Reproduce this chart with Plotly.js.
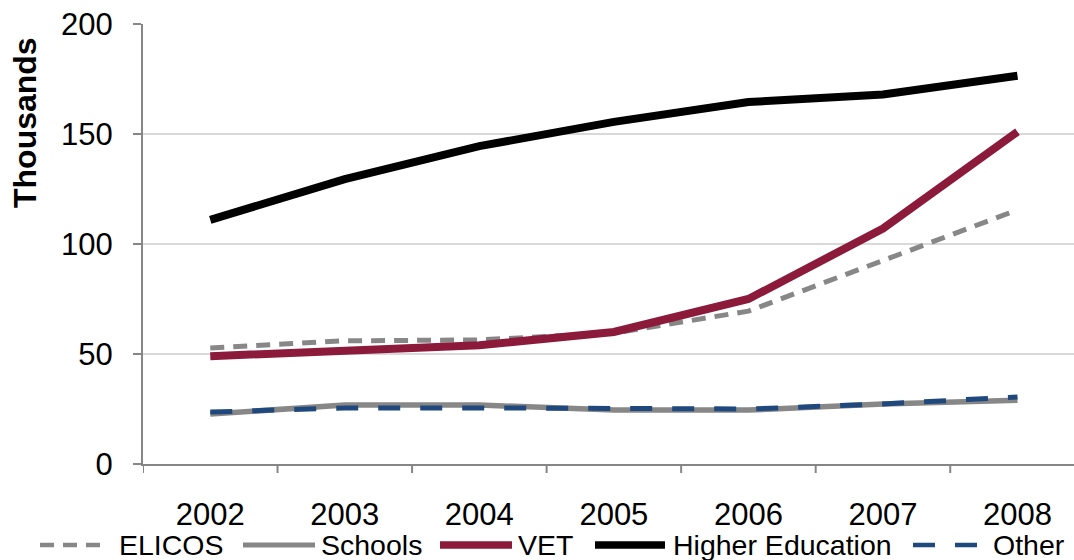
<!DOCTYPE html>
<html>
<head>
<meta charset="utf-8">
<script src="https://cdn.plot.ly/plotly-3.0.1.min.js"></script>
<style>
  html, body { margin: 0; padding: 0; background: #ffffff; }
  #chart { width: 1074px; height: 560px; }
</style>
</head>
<body>
<div id="chart"></div>
<script>
// International student enrolments by sector, thousands
const years = ['2002', '2003', '2004', '2005', '2006', '2007', '2008'];

const elicos          = [52.7, 56.0, 56.4, 59.5, 69.5, 92.7, 115.5];
const schools         = [22.7, 26.8, 26.8, 24.5, 24.5, 27.3, 29.0];
const vet             = [49.0, 51.4, 54.0, 60.0, 75.0, 107.0, 151.0];
const higherEducation = [111.0, 129.5, 144.5, 155.5, 164.5, 168.0, 176.5];
const other           = [23.6, 25.5, 25.5, 25.0, 25.0, 27.3, 30.5];

const seriesNames = ['ELICOS', 'Schools', 'VET', 'Higher Education', 'Other'];
const seriesData  = [elicos, schools, vet, higherEducation, other];
const yTicks = [0, 50, 100, 150, 200];

// line styles per series
const styles = [
  { color: '#878787', width: 5, dash: '14px,9px' },
  { color: '#878787', width: 5.5, dash: 'solid' },
  { color: '#8c1a3a', width: 8, dash: 'solid' },
  { color: '#000000', width: 8, dash: 'solid' },
  { color: '#1f497d', width: 5, dash: '22px,20px' }
];

const FONT = 'Liberation Sans, Arial, sans-serif';
const W = 1074, H = 560;
const M = { l: 143, r: 0, t: 24, b: 96 };
const plotW = W - M.l - M.r, plotH = H - M.t - M.b;
const xp = px => (px - M.l) / plotW;     // pixel -> paper x
const yp = py => (H - M.b - py) / plotH; // pixel -> paper y

const xIdx = years.map((_, i) => i);

const traces = seriesData.map((vals, i) => ({
  type: 'scatter',
  mode: 'lines',
  x: xIdx,
  y: vals,
  name: seriesNames[i],
  line: { color: styles[i].color, width: styles[i].width, dash: styles[i].dash },
  showlegend: false,
  hoverinfo: 'skip'
}));

// legend drawn beneath the axis: line sample then label
const legendSlots = [
  { x0: 40,  x1: 105, tx: 117 },
  { x0: 243, x1: 315, tx: 319 },
  { x0: 440, x1: 512, tx: 516 },
  { x0: 595, x1: 665, tx: 671 },
  { x0: 913, x1: 980, tx: 991 }
];
const legendY = 545;

const legendShapes = legendSlots.map((s, i) => ({
  type: 'line', xref: 'paper', yref: 'paper',
  x0: xp(s.x0), x1: xp(s.x1), y0: yp(legendY), y1: yp(legendY),
  line: { color: styles[i].color, width: styles[i].width - 0.5, dash: styles[i].dash }
}));

const legendLabels = legendSlots.map((s, i) => ({
  xref: 'paper', yref: 'paper',
  x: xp(s.tx), y: yp(legendY),
  xanchor: 'left', yanchor: 'middle',
  text: seriesNames[i], showarrow: false,
  font: { family: FONT, size: 28.5, color: '#000000' }
}));

// y-axis caption, set high beside the axis
const yCaption = {
  xref: 'paper', yref: 'paper',
  x: xp(25), y: yp(123),
  xanchor: 'center', yanchor: 'middle',
  textangle: -90, showarrow: false,
  text: '<b>Thousands</b>',
  font: { family: FONT, size: 32, color: '#000000' }
};

// boundary tick marks between year categories
const boundaryTicks = xIdx.map(i => ({
  type: 'line', xref: 'x', yref: 'paper',
  x0: i - 0.5, x1: i - 0.5, y0: 0, y1: -9 / plotH,
  line: { color: '#868686', width: 2 }
}));

const layout = {
  width: W, height: H,
  margin: M,
  paper_bgcolor: '#ffffff', plot_bgcolor: '#ffffff',
  font: { family: FONT, size: 31, color: '#000000' },
  xaxis: {
    range: [-0.5, 6.42],
    tickmode: 'array',
    tickvals: xIdx,
    ticktext: years,
    ticks: '',
    showgrid: false,
    zeroline: false,
    showline: true, linecolor: '#868686', linewidth: 2,
    ticklabelstandoff: 22,
    tickfont: { family: FONT, size: 31, color: '#000000' },
    fixedrange: true
  },
  yaxis: {
    range: [0, 200],
    tickmode: 'array',
    tickvals: yTicks,
    ticks: 'outside', ticklen: 8, tickwidth: 2, tickcolor: '#868686',
    showgrid: true, gridcolor: '#d9d9d9', gridwidth: 1.5,
    zeroline: false,
    showline: true, linecolor: '#868686', linewidth: 2,
    ticklabelstandoff: 14,
    tickfont: { family: FONT, size: 31, color: '#000000' },
    fixedrange: true
  },
  showlegend: false,
  shapes: legendShapes.concat(boundaryTicks),
  annotations: legendLabels.concat([yCaption])
};

Plotly.newPlot('chart', traces, layout, { staticPlot: true, displayModeBar: false });
</script>
</body>
</html>
